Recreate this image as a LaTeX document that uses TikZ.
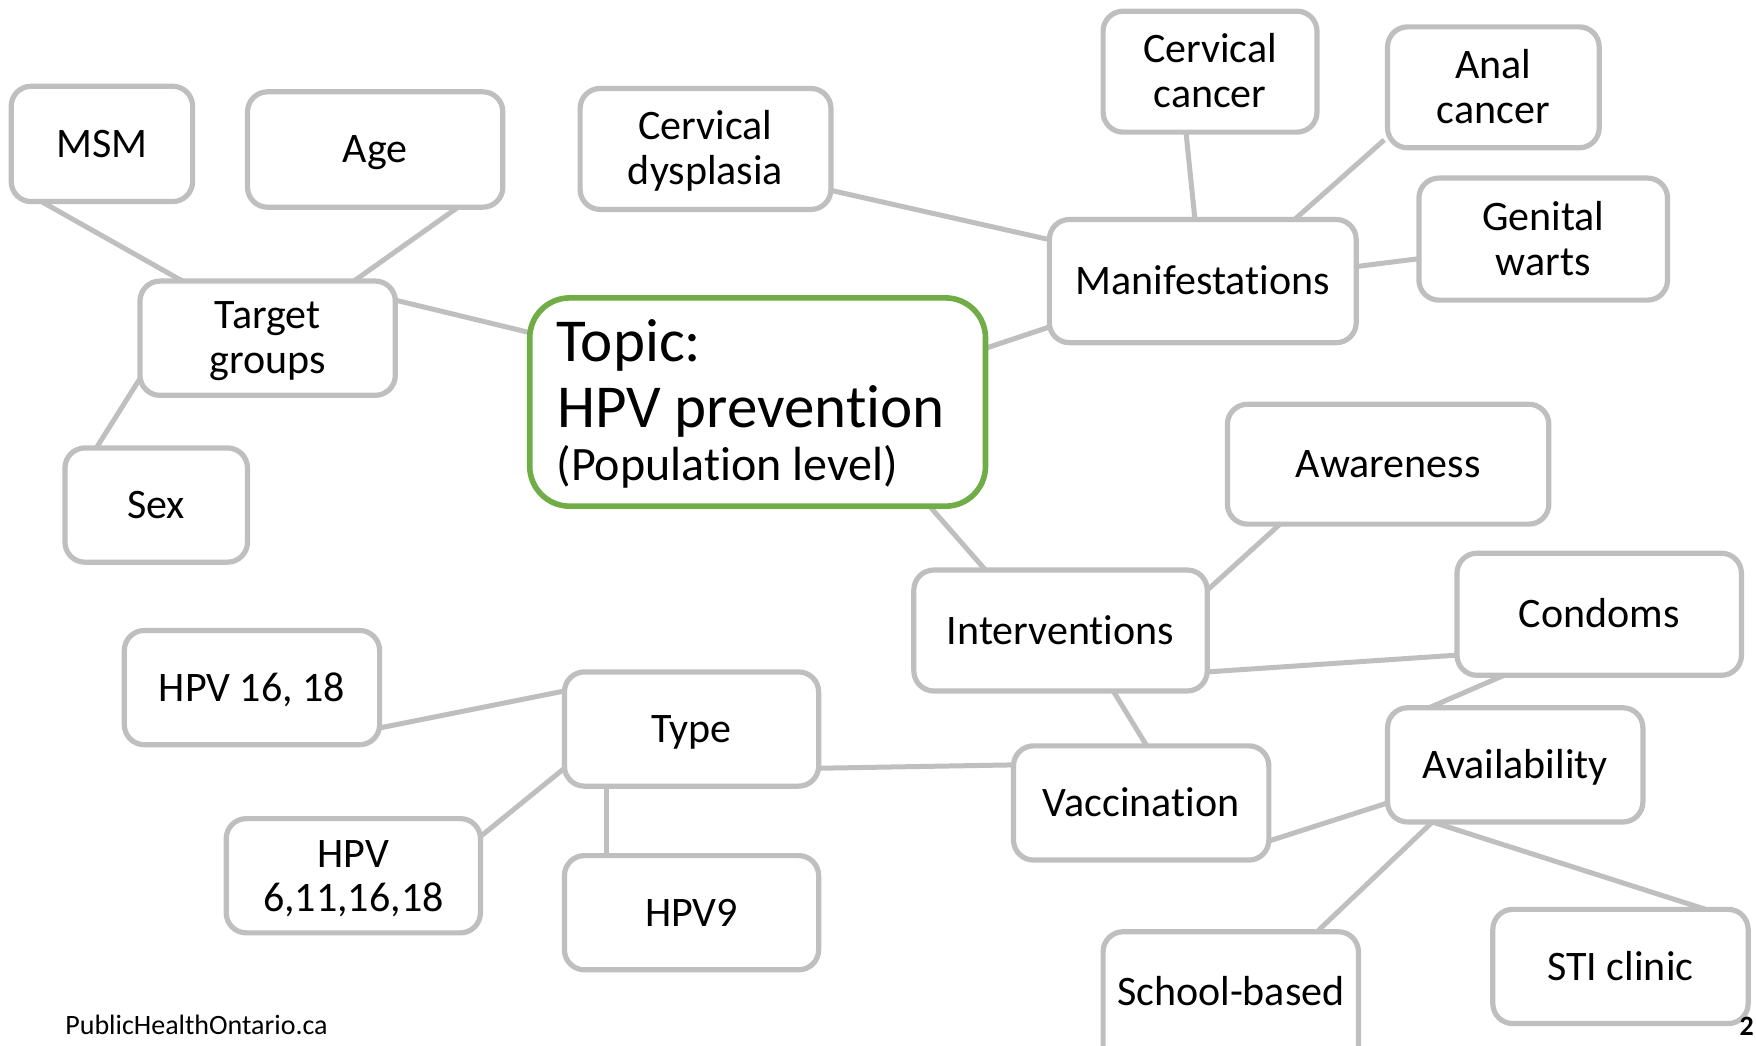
\documentclass[tikz,border=0pt]{standalone}
\usepackage{fontspec}
\setmainfont{Carlito}[Ligatures={NoCommon}]
\usetikzlibrary{calc,backgrounds}
\definecolor{boxgray}{RGB}{191,191,191}
\definecolor{topicgreen}{RGB}{112,173,71}
\newcommand\lnst{\rule[-0.15em]{0pt}{0.95em}}
\tikzset{
  mmbox/.style={draw=boxgray, line width=2.6pt, fill=white, rounded corners=10pt,
    inner sep=0pt, outer sep=0pt, align=center, font=\fontsize{21}{22.4}\selectfont},
  sz/.style 2 args={minimum width=#1*0.56pt, minimum height=#2*0.56pt},
  conn/.style={draw=boxgray, line width=2.5pt},
  topicbox/.style={draw=topicgreen, line width=2.8pt, fill=white, rounded corners=20pt,
    inner sep=0pt, outer sep=0pt},
  topictext/.style={anchor=base west, inner sep=0pt, outer sep=0pt},
}
\begin{document}
\begin{tikzpicture}[x=0.56pt,y=-0.56pt]
\useasboundingbox (0,0) rectangle (1568,934);

% nodes
\node[mmbox, sz={162}{103}] (msm) at (91,128.5) {\lnst MSM};
\node[mmbox, sz={228}{103}] (age) at (335,133.5) {\lnst Age};
\node[mmbox, sz={228}{102}] (tg) at (239,302) {\lnst Target\\\lnst groups};
\node[mmbox, sz={163}{102}] (sex) at (139.5,451) {\lnst Sex};
\node[topicbox, sz={407}{186}] (topic) at (676.5,359) {};
\node[topictext, font=\fontsize{30.5}{36}\selectfont] (tp1) at (497,323) {Topic:};
\node[topictext, font=\fontsize{30.5}{36}\selectfont] (tp2) at (497.5,382) {HPV prevention};
\node[topictext, font=\fontsize{24}{28}\selectfont] (tp3) at (497,429) {(Population level)};
\node[mmbox, sz={224}{108}] (cdys) at (630,133) {\lnst Cervical\\\lnst dysplasia};
\node[mmbox, sz={191}{108}] (ccan) at (1080.5,64) {\lnst Cervical\\\lnst cancer};
\node[mmbox, sz={189}{108}] (acan) at (1333.5,78) {\lnst Anal\\\lnst cancer};
\node[mmbox, sz={222}{109}] (gw) at (1378,213.5) {\lnst Genital\\\lnst warts};
\node[mmbox, sz={274}{110}] (man) at (1074,251) {\lnst Manifestations};
\node[mmbox, sz={287}{107}] (aw) at (1239.5,414.5) {\lnst Awareness};
\node[mmbox, sz={262}{108}] (int) at (947,563) {\lnst Interventions};
\node[mmbox, sz={254}{109}] (con) at (1428,548.5) {\lnst Condoms};
\node[mmbox, sz={228}{102}] (av) at (1353,683) {\lnst Availability};
\node[mmbox, sz={228}{102}] (vac) at (1019,717) {\lnst Vaccination};
\node[mmbox, sz={227}{102}] (type) at (617.5,651) {\lnst Type};
\node[mmbox, sz={228}{102}] (h1618) at (225,614) {\lnst HPV 16, 18};
\node[mmbox, sz={227}{102}] (h6) at (315.5,782) {\lnst HPV\\\lnst 6,11,16,18};
\node[mmbox, sz={227}{102}] (h9) at (617.5,815) {\lnst HPV9};
\node[mmbox, sz={228}{120}, anchor=north, text depth=10pt] (sb) at (1099,832) {\lnst School-based};
\node[mmbox, sz={228}{102}] (sti) at (1447,863) {\lnst STI clinic};

% footer
\node[anchor=base west, inner sep=0pt, font=\fontsize{14}{16}\selectfont] (foot) at (58,924) {PublicHealthOntario.ca};
\node[anchor=base west, inner sep=0pt, font=\fontsize{14}{16}\selectfont\bfseries] (pnum) at (1553,925) {2};

% connectors
\begin{scope}[on background layer]
\fill[white] (0,0) rectangle (1568,934);
\draw[conn] ($(msm.south west)+(27,0)$) -- ($(tg.north west)+(38,0)$);
\draw[conn] ($(age.south east)+(-40,0)$) -- ($(tg.north east)+(-37,0)$);
\draw[conn] ($(sex.north west)+(28,0)$) -- ($(tg.south west)+(0,-15)$);
\draw[conn] ($(tg.north east)+(0,17)$) -- ($(topic.north west)+(0,31)$);
\draw[conn] ($(topic.north east)+(0,45)$) -- ($(man.south west)+(0,-14)$);
\draw[conn] ($(cdys.south east)+(0,-17)$) -- ($(man.north west)+(0,18)$);
\draw[conn] ($(ccan.south west)+(74,0)$) -- ($(man.north west)+(130,0)$);
\draw[conn] ($(acan.south west)+(-3,-7)$) -- ($(man.north east)+(-55,0)$);
\draw[conn] ($(man.north east)+(0,42)$) -- ($(gw.south west)+(0,-37)$);
\draw[conn] ($(topic.south east)+(-50,0)$) -- ($(int.north west)+(64,0)$);
\draw[conn] ($(aw.south west)+(47,0)$) -- ($(int.north east)+(0,18)$);
\draw[conn] ($(con.south west)+(0,-18)$) -- ($(int.south east)+(0,-17)$);
\draw[conn] ($(con.south west)+(42,0)$) -- ($(av.north west)+(37,0)$);
\draw[conn] ($(int.south west)+(178,0)$) -- ($(vac.north west)+(119,0)$);
\draw[conn] ($(vac.south east)+(0,-17)$) -- ($(av.south west)+(0,-17)$);
\draw[conn] ($(type.south east)+(0,-16)$) -- ($(vac.north west)+(0,17)$);
\draw[conn] ($(h1618.south east)+(0,-15)$) -- ($(type.north west)+(0,17)$);
\draw[conn] ($(h6.north east)+(0,16)$) -- ($(type.south west)+(0,-16)$);
\draw[conn] ($(h9.north west)+(38,0)$) -- ($(type.south west)+(38,0)$);
\draw[conn] ($(av.south west)+(40,0)$) -- ($(sb.north east)+(-37,0)$);
\draw[conn] ($(av.south west)+(40,0)$) -- ($(sti.north east)+(-38,0)$);
\end{scope}
\end{tikzpicture}
\end{document}
